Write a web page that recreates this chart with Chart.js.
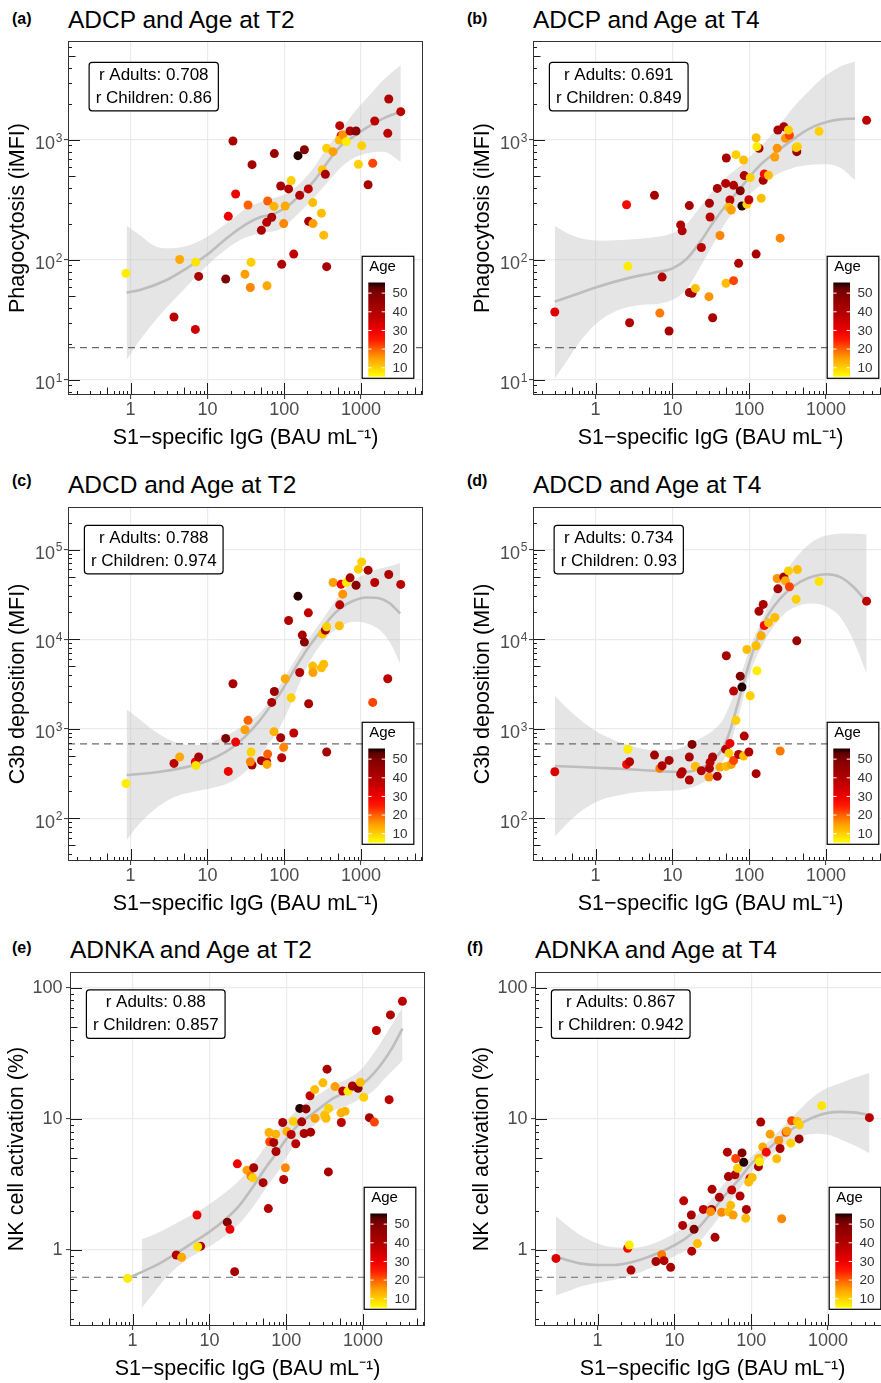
<!DOCTYPE html>
<html>
<head>
<meta charset="utf-8">
<script src="https://cdn.jsdelivr.net/npm/chart.js@4.4.0/dist/chart.umd.min.js"></script>
<style>
  html, body { margin: 0; padding: 0; background: #fff; overflow: hidden; width: 881px; height: 1383px; }
  body { position: relative; font-family: 'Liberation Sans', Arial, sans-serif; }
  canvas { position: absolute; }
  .tag { position: absolute; font-weight: bold; font-size: 16px; line-height: 16px; }
  .ttl { position: absolute; font-size: 24.5px; line-height: 24px; white-space: nowrap; }
</style>
</head>
<body>
<div class="tag" style="left:12px;top:11px">(a)</div>
<div class="ttl" style="left:68px;top:8px">ADCP and Age at T2</div>
<div class="tag" style="left:467px;top:11px">(b)</div>
<div class="ttl" style="left:533px;top:8px">ADCP and Age at T4</div>
<div class="tag" style="left:12px;top:473px">(c)</div>
<div class="ttl" style="left:68px;top:473px">ADCD and Age at T2</div>
<div class="tag" style="left:467px;top:473px">(d)</div>
<div class="ttl" style="left:533px;top:473px">ADCD and Age at T4</div>
<div class="tag" style="left:12px;top:940px">(e)</div>
<div class="ttl" style="left:70px;top:938px">ADNKA and Age at T2</div>
<div class="tag" style="left:467px;top:940px">(f)</div>
<div class="ttl" style="left:535px;top:938px">ADNKA and Age at T4</div>

<canvas id="pa" width="440" height="439" style="left:0;top:21px"></canvas>
<canvas id="pb" width="440" height="439" style="left:465px;top:21px"></canvas>
<canvas id="pc" width="440" height="439" style="left:0;top:487px"></canvas>
<canvas id="pd" width="440" height="439" style="left:465px;top:487px"></canvas>
<canvas id="pe" width="442" height="439" style="left:0;top:952px"></canvas>
<canvas id="pf" width="442" height="439" style="left:465px;top:952px"></canvas>

<script>
// ---- axis limits and ticks ----
const xLimits = [0.153, 6410];
const xTicks = [1, 10, 100, 1000];
const yLimitsP = [7.5, 6683];
const yTicksP = [10, 100, 1000];
const yExpP = [1, 2, 3];
const yLimitsC = [33.4, 298500];
const yTicksC = [100, 1000, 10000, 100000];
const yExpC = [2, 3, 4, 5];
const yLimitsN = [0.2636, 131.5];
const yTicksN = [1, 10, 100];
const yLabelsN = ['1', '10', '100'];
const ageLimits = [5.2, 55.7];
const ageTicks = [10, 20, 30, 40, 50];

// dashed cut-offs
const cutP = 18.6, cutC = 676, cutN = 0.62;

// ---- (a) ADCP T2 ----
const xA = [0.87,4.35,7.03,7.69,3.67,6.96,17.3,18.7,21.5,23.3,33.8,38.1,37,30.8,36.2,59.7,50.4,59.1,68.7,60.9,73.6,74.4,90,114,123,103,98.4,92.7,133,151,183,159,206,208,235,237,305,327,314,343,357,357,432,528,550,522,578,645,720,861,924,1021,1236,1420,1508,2228,2296,3289];
const yA = [77.4,101,96,73,33.5,26.4,69.5,231,981,355,287,623,95.7,76,59,61,177,206,227,310,280,770,414,391,459,282,201,92,112,740,830,346,391,210,301,201,245,161,566,518,88,853,800,1316,1087,1000,1101,969,1189,1189,627,897,424,640,1440,1137,2196,1723];
const ageA = [7,14,8,42,38,35,50,30,42,30,20,43,10,15,17,14,42,38,42,20,13,45,42,40,10,14,17,40,37,55,48,40,37,42,12,15,12,12,11,42,42,10,15,38,30,12,16,7,42,48,10,10,42,22,38,38,40,38];
const fitXA = [0.887,1.32,2.94,5.36,9.77,17.8,32.4,48.4,72.2,108,161,240,357,533,796,1187,1955,3289];
const fitYA = [53.5,56.2,68.1,85.3,110,152,200,227,242,278,348,450,639,880,1066,1267,1516,1723];
const hiXA = [0.887,1.32,1.97,2.94,5.36,9.77,17.8,32.4,59.1,108,161,240,357,533,796,1187,1955,3289];
const hiYA = [193,161,133,125,131,155,202,270,316,359,436,581,853,1173,1668,2223,3162,4217];
const loXA = [0.887,1.32,2.41,4.39,8.0,14.6,26.6,48.4,88.2,131,240,357,533,796,1187,1955,3289];
const loYA = [14.7,21.5,34.8,52.7,78.4,112,147,167,180,222,327,436,581,703,774,800,659];

// ---- (b) ADCP T4 ----
const xB = [0.294,2.53,2.63,2.77,5.84,6.85,7.34,9.05,12.8,13.4,16.6,16.6,18,19.9,23.8,29.9,30.3,30.9,33.4,38.4,41.6,49.3,50.3,49.8,56.1,54.5,58.4,62.6,62.6,67.2,72.7,76.4,80.4,93.3,84.4,86.1,99,103,123,134,126,123,143,152,157,178,215,231,236,253,282,296,334,324,416,408,424,811,3375];
const yB = [36.9,289,88.5,30,346,36.1,72,25.6,196,175,284,53.5,52.8,58,127,49.5,297,228,33,395,160,435,708,64,316,275,261,419,67.3,755,93.8,378,282,291,681,505,318,486,1045,853,880,112,327,462,521,508,722,853,1211,152,1292,1032,1093,1211,800,863,880,1181,1459];
const ageB = [33,28,7,40,43,18,40,42,40,40,42,40,42,12,38,16,42,38,42,42,17,40,42,12,37,12,15,40,22,10,40,50,55,10,12,40,37,10,12,42,7,42,12,42,28,12,15,16,42,17,42,16,22,10,45,12,10,10,38];
const fitXB = [0.294,0.523,1,2.58,5.72,10.1,15.5,23.1,34.4,51.3,76.4,103,139,207,308,460,685,1020,1520,2381];
const fitYB = [45,51.1,59.1,70.3,78.4,85.3,103,142,208,293,395,501,619,764,926,1115,1291,1413,1486,1506];
const hiXB = [0.294,0.429,0.638,1.16,2.11,3.84,6.32,10.4,15.5,23.1,34.4,51.3,76.4,114,170,253,377,561,923,1520,2381];
const hiYB = [193,167,152,145,147,150,156,169,202,278,383,495,607,774,1000,1359,1871,2448,3326,4084,4499];
const loXB = [0.294,0.429,0.705,1.16,2.11,3.84,6.98,10.4,15.5,23.1,34.4,51.3,76.4,114,170,253,377,561,923,1520,2381];
const loYB = [10.3,14.7,23,31.6,38.8,42.2,43.5,47,58,88,138,213,293,378,458,534,588,615,627,591,464];

// ---- (c) ADCD T2 ----
const xC = [0.87,3.67,4.35,6.96,7.1,7.69,17.3,18.7,21.5,23.3,30.8,33.8,38.1,36.2,37,50.4,59.1,60.9,59.7,68.7,74.4,73.6,90,92.7,98.4,103,114,123,133,151,159,172,183,206,208,235,237,305,327,314,343,357,357,432,528,522,578,550,645,720,861,924,1021,1236,1420,1508,2228,2296,3289];
const yC = [245,410,483,425,390,483,780,334,3177,710,975,1240,394,428,550,440,428,521,400,1968,2604,927,794,475,620,3613,16150,2218,896,30200,4246,11100,9270,19670,1900,5000,4246,4787,5260,11380,12600,550,13740,42840,24150,14100,31770,41000,42840,48300,40000,60400,72800,58900,1968,42840,3613,52600,40800];
const ageC = [7,38,14,30,8,42,50,30,42,30,15,20,43,17,10,42,38,20,14,42,45,13,42,40,17,14,40,10,37,55,40,42,48,37,42,12,15,12,12,11,42,42,10,15,38,12,16,30,7,42,48,10,10,42,22,38,38,40,38];
const fitXC = [0.887,1.32,2.41,4.39,8.0,13.2,21.8,32.4,48.4,65.3,88.2,119,161,217,293,395,533,796,1187,1770,2389,3224];
const fitYC = [304,312,331,361,410,487,630,849,1250,1758,2477,3800,5835,8578,12080,17020,21980,26780,29200,28440,25000,19330];
const hiXC = [0.887,1.32,1.97,2.94,4.39,6.55,9.77,14.6,21.8,32.4,48.4,65.3,88.2,119,161,217,293,395,533,796,1187,1770,2389,3224];
const hiYC = [1643,1271,966,780,686,657,686,773,926,1146,1507,2089,3070,4710,7230,10620,15210,21980,31770,44800,53950,61380,65200,71000];
const loXC = [0.887,1.32,2.18,3.6,6.55,11.9,21.8,39.6,59.1,88.2,119,161,217,293,395,533,796,1187,1770,2389,3224];
const loYC = [57.3,87.9,131,171,198,220,263,403,630,1052,1790,3343,5730,8490,11380,13740,15610,14960,12600,9100,5360];

// ---- (d) ADCD T4 ----
const xD = [0.294,2.53,2.77,2.63,5.84,6.85,7.34,9.05,12.8,13.4,16.6,16.6,18,19.9,23.8,29.9,30.3,30.9,33.4,38.4,41.6,49.3,50.3,49.8,56.1,54.5,58.4,62.6,62.6,67.2,72.7,76.4,80.4,84.4,86.1,99,103,93.3,123,126,123,143,134,152,157,178,215,231,236,253,282,296,334,324,408,424,416,811,3375];
const yD = [331,400,428,589,508,361,386,443,312,331,483,268,668,380,340,289,361,422,483,294,373,589,6520,380,686,531,400,2630,443,1240,517,3863,2917,496,828,550,2335,7670,8430,4436,315,10900,20500,24400,14200,15200,17450,47500,36400,564,49500,44800,38400,57800,27900,59800,9570,44000,26550];
const ageD = [33,28,38,7,43,18,40,42,40,40,42,40,50,12,40,16,42,38,42,42,14,40,42,12,30,10,15,38,22,10,40,50,55,12,40,40,10,12,12,7,42,14,42,42,28,12,12,16,42,18,42,14,22,10,10,12,45,8,38];
const fitXD = [0.294,0.523,1,2.11,3.84,6.32,10.1,15.5,23.1,34.4,46.4,56.6,69.2,84.4,103,126,153,207,308,460,685,1020,1520,2265,3375];
const fitYD = [384,377,367,358,346,337,331,331,361,448,630,966,1758,3257,5835,9750,14960,22950,33740,43600,50450,53100,49550,38380,26060];
const hiXD = [0.294,0.429,0.638,0.952,1.73,3.15,5.72,10.1,15.5,23.1,34.4,46.4,56.6,69.2,84.4,103,139,187,253,377,561,836,1245,1855,3375];
const hiYD = [2335,1686,1250,966,748,630,578,578,657,780,966,1303,1919,2939,4910,8220,14960,27200,45500,74800,108900,136000,148300,150700,148300];
const loXD = [0.294,0.429,0.638,1.16,2.11,3.84,6.98,12.7,18.9,28.2,38,51.3,62.6,76.4,93.3,114,153,207,308,460,685,1020,1520,2265,3375];
const loYD = [62.5,87.9,119,160,182,198,202,207,225,268,346,531,887,1614,3206,5360,8950,13740,20200,23930,25000,22950,17740,9750,4140];

// ---- (e) ADNKA T2 ----
const xE = [0.86,3.7,4.35,6.89,7.69,7.03,17.1,18.5,21.3,23.1,30.8,34.8,37.7,36.6,49.9,58.5,59.7,60.9,68.7,72.9,73.6,90,92.7,97.5,102,116,124,133,150,159,171,181,204,208,235,237,301,317,330,340,354,357,432,517,522,544,584,638,727,861,924,1021,1210,1406,1493,2185,2274,3258];
const yE = [0.608,0.916,0.88,1.85,1.07,1.06,1.63,1.44,0.684,4.54,4.06,3.66,4.24,3.55,3.26,2.07,7.87,6.68,6.6,7.64,5.64,9.37,3.45,4.24,8.01,7.6,9.55,6.46,12.0,9.48,7.73,11.9,15.0,7.91,16.7,10.1,18.8,10.7,10.1,23.9,3.94,12.0,17.6,11.1,9.37,16.3,11.4,16.2,17.8,17.1,19.0,14.6,10.2,9.44,47.1,14.0,61.9,78.7];
const ageE = [7,40,14,30,38,8,50,30,42,30,15,18,42,10,42,40,13,22,42,13,42,42,40,17,13,38,10,38,55,42,42,48,37,42,12,15,12,12,12,42,42,10,15,13,38,38,13,7,42,48,12,10,42,22,38,38,40,38];
const fitXE = [0.9,1.01,1.51,2.25,3.71,6.11,10.1,16.6,24.8,37,55.1,74.4,100,135,202,302,407,550,742,1000,1352,1824,2462,3258];
const fitYE = [0.615,0.634,0.705,0.791,0.944,1.14,1.38,1.74,2.2,3.04,4.31,5.45,7.0,8.69,10.5,12.6,14.3,15.6,16.7,18.6,21.9,27.2,35.7,48.7];
const bandXE = [1.31,1.84,2.75,5.0,9.12,16.6,24.8,37,55.1,74.4,100,135,202,302,407,607,906,1352,2015,2720,3258];
const hiYE = [1.21,1.3,1.46,1.76,2.16,2.78,3.41,4.57,6.3,7.87,9.66,11.5,13.9,16.1,18.0,19.9,23.2,31.0,44.7,59.2,70.5];
const loYE = [0.36,0.462,0.619,0.84,1.03,1.3,1.6,2.14,3.0,3.79,5.08,6.61,8.34,10.2,11.5,12.6,14.1,16.3,20.9,24.9,28.0];

// ---- (f) ADNKA T4 ----
const xF = [0.287,2.46,2.59,2.72,5.75,6.82,7.32,8.93,12.8,13.2,16.6,16.8,18,19.9,23.8,30.5,29.6,30.9,33.8,38.5,41.2,48.9,50.4,50.4,54,55.7,58,61.5,62.8,66.6,71.5,75.9,79.8,84.7,86.4,96.4,92.7,103,124,125,128,133,141,157,176,215,228,237,249,284,292,327,336,420,399,424,828,3459];
const yF = [0.863,1.03,1.09,0.703,0.818,0.92,0.83,0.738,1.54,2.37,1.85,0.98,1.44,1.12,2.04,2.04,1.96,2.9,1.25,2.52,1.94,5.57,3.63,1.96,2.19,2.87,1.85,3.74,4.98,4.2,2.58,5.5,4.67,1.75,2.04,3.52,3.29,3.57,4.32,4.98,4.7,9.44,6.11,5.57,7.64,4.96,6.84,5.94,1.73,7.9,8.05,6.52,9.66,7.03,9.55,9.0,12.6,10.2];
const ageF = [33,28,7,40,43,18,40,42,40,38,42,40,50,12,38,42,16,42,42,42,17,40,42,12,12,37,15,40,22,10,40,50,55,12,42,30,12,12,42,12,7,42,14,28,15,12,16,42,17,22,15,10,22,45,12,10,8,38];
const fitXF = [0.287,0.395,0.589,1,1.6,2.91,5.31,10.1,14.4,21.5,32.1,47.9,71.5,100,144,215,320,478,712,1000,1435,2138,3459];
const fitYF = [0.889,0.839,0.791,0.768,0.768,0.814,0.916,1.09,1.24,1.52,2.02,2.71,3.53,4.53,5.47,6.72,8.15,9.44,10.5,11.1,11.3,11.2,10.7];
const bandXF = [0.287,0.395,0.589,1,1.6,2.91,5.31,10.1,14.4,21.5,32.1,47.9,71.5,100,144,215,320,478,712,1000,1435,2366,3459];
const hiYF = [1.82,1.55,1.3,1.12,1.05,1.04,1.12,1.34,1.55,1.93,2.55,3.37,4.2,5.15,6.15,7.78,9.93,12.6,15.4,17.3,18.7,20.8,22.3];
const loYF = [0.453,0.481,0.525,0.563,0.59,0.644,0.746,0.9,1.0,1.18,1.55,2.14,2.94,3.92,4.72,5.73,6.76,7.42,7.68,7.55,7.0,6.15,5.47];

// colour scale for age
const ageStops = [[5.2,'#ffff00'],[10,'#ffd000'],[15,'#ffa000'],[20,'#ff6000'],[25,'#ff1800'],[30,'#ee0000'],[38,'#bb0000'],[45,'#990000'],[50,'#800000'],[53,'#600000'],[55.7,'#100000']];

const FONT = "'Liberation Sans', Arial, sans-serif";

function hex(c) { return [1, 3, 5].map(i => parseInt(c.substr(i, 2), 16)); }
function ageColor(a) {
  if (a <= ageStops[0][0]) return ageStops[0][1];
  for (let i = 1; i < ageStops.length; i++) {
    if (a <= ageStops[i][0]) {
      const [a0, c0] = ageStops[i - 1], [a1, c1] = ageStops[i];
      const t = (a - a0) / (a1 - a0);
      const p = hex(c0), q = hex(c1);
      return 'rgb(' + p.map((v, k) => Math.round(v + (q[k] - v) * t)).join(',') + ')';
    }
  }
  return ageStops[ageStops.length - 1][1];
}

function pts(xs, ys) { return xs.map((x, i) => ({x: x, y: ys[i]})); }

function logSteps(min, max) {
  const out = [];
  for (let k = Math.floor(Math.log10(min)); k <= Math.ceil(Math.log10(max)); k++) {
    for (let m = 1; m <= 9; m++) {
      const v = m * Math.pow(10, k);
      if (v >= min && v <= max) out.push([v, m]);
    }
  }
  return out;
}

// draws log ticks, panel border, power-of-ten labels, r box and colour bar
const panelDeco = {
  id: 'panelDeco',
  afterDatasetsDraw(chart, args, o) {
    const {ctx, chartArea: ca} = chart;
    const x = chart.scales.x, y = chart.scales.y;
    ctx.save();
    ctx.strokeStyle = '#1a1a1a';
    ctx.lineWidth = 1;
    logSteps(x.min, x.max).forEach(([v, m]) => {
      const px = Math.round(x.getPixelForValue(v)) + 0.5;
      const len = m === 1 ? 12 : (m === 5 ? 7.5 : 4);
      ctx.beginPath(); ctx.moveTo(px, ca.bottom); ctx.lineTo(px, ca.bottom - len); ctx.stroke();
    });
    logSteps(y.min, y.max).forEach(([v, m]) => {
      const py = Math.round(y.getPixelForValue(v)) + 0.5;
      const len = m === 1 ? 12 : (m === 5 ? 7.5 : 4);
      ctx.beginPath(); ctx.moveTo(ca.left, py); ctx.lineTo(ca.left + len, py); ctx.stroke();
    });
    ctx.strokeStyle = '#333';
    ctx.strokeRect(ca.left + 0.5, ca.top + 0.5, ca.width - 1, ca.height - 1);

    // 10^k labels on the y axis
    if (o.exps) {
      ctx.fillStyle = '#4d4d4d';
      ctx.textAlign = 'left'; ctx.textBaseline = 'alphabetic';
      o.ticks.forEach((v, i) => {
        const py = y.getPixelForValue(v);
        const e = String(o.exps[i]);
        ctx.font = '12px ' + FONT;
        const we = ctx.measureText(e).width;
        ctx.font = '18px ' + FONT;
        const wb = ctx.measureText('10').width;
        const right = ca.left - 5.5;
        ctx.fillText('10', right - we - 0.8 - wb, py + 9.3);
        ctx.font = '12px ' + FONT;
        ctx.fillText(e, right - we, py + 1.8);
      });
    }

    // r box
    ctx.font = '17px ' + FONT;
    const w = Math.max(ctx.measureText(o.r1).width, ctx.measureText(o.r2).width) + 13;
    const h = 48.5;
    const cx = x.getPixelForValue(2), cy = y.getPixelForValue(o.boxY);
    ctx.beginPath();
    ctx.roundRect(cx - w / 2, cy - h / 2, w, h, 3);
    ctx.fillStyle = '#fff'; ctx.fill();
    ctx.strokeStyle = '#000'; ctx.lineWidth = 1.2; ctx.stroke();
    ctx.fillStyle = '#000';
    ctx.textAlign = 'center'; ctx.textBaseline = 'middle';
    ctx.fillText(o.r1, cx, cy - 11.5);
    ctx.fillText(o.r2, cx, cy + 11.5);

    // colour bar legend
    const L = ca.right - 9.2 - 51.6, T = ca.bottom - 16.7 - 122;
    ctx.fillStyle = '#fff';
    ctx.fillRect(L, T, 51.6, 122);
    ctx.strokeStyle = '#000'; ctx.lineWidth = 1.2;
    ctx.strokeRect(L, T, 51.6, 122);
    const bx = L + 6.1, bw = 16.7, by = T + 26.2, bh = 94.2;
    const span = ageLimits[1] - ageLimits[0];
    const g = ctx.createLinearGradient(0, by + bh, 0, by);
    ageStops.forEach(([a, c]) => g.addColorStop(Math.min(1, Math.max(0, (a - ageLimits[0]) / span)), c));
    ctx.fillStyle = g;
    ctx.fillRect(bx, by, bw, bh);
    ctx.strokeStyle = '#fff'; ctx.lineWidth = 1;
    ctx.font = '13.5px ' + FONT;
    ctx.textAlign = 'left'; ctx.textBaseline = 'middle';
    ageTicks.forEach(a => {
      const py = by + bh - (a - ageLimits[0]) / span * bh;
      ctx.beginPath();
      ctx.moveTo(bx, py); ctx.lineTo(bx + 3.3, py);
      ctx.moveTo(bx + bw - 3.3, py); ctx.lineTo(bx + bw, py);
      ctx.stroke();
      ctx.fillStyle = '#333';
      ctx.fillText(String(a), bx + bw + 7.5, py + 0.5);
    });
    ctx.fillStyle = '#000';
    ctx.font = '15px ' + FONT;
    ctx.fillText('Age', L + 7, T + 10.6);
    ctx.restore();
  }
};

function makePanel(id, p) {
  const tickFont = {family: FONT, size: 18};
  const titleFont = {family: FONT, size: 21.5};
  new Chart(document.getElementById(id), {
    type: 'scatter',
    data: {
      datasets: [
        {data: pts(p.x, p.y), backgroundColor: p.age.map(ageColor), pointRadius: 4.5, pointHoverRadius: 4.5, borderWidth: 0, order: 0},
        {type: 'line', data: pts(p.fitX, p.fitY), borderColor: '#bdbdbd', borderWidth: 2.6, pointRadius: 0,
          cubicInterpolationMode: 'monotone', fill: false, order: 1},
        {type: 'line', data: [{x: xLimits[0], y: p.cut}, {x: xLimits[1], y: p.cut}], borderColor: '#6b6b6b', borderWidth: 1.2,
          borderDash: [7, 5], pointRadius: 0, fill: false, order: 2},
        {type: 'line', data: pts(p.hiX, p.hiY), borderColor: 'rgba(0,0,0,0)', borderWidth: 0, pointRadius: 0,
          cubicInterpolationMode: 'monotone', fill: '+1', backgroundColor: 'rgba(190,190,190,0.4)', order: 3},
        {type: 'line', data: pts(p.loX, p.loY), borderColor: 'rgba(0,0,0,0)', borderWidth: 0, pointRadius: 0,
          cubicInterpolationMode: 'monotone', fill: false, order: 4}
      ]
    },
    options: {
      responsive: false,
      animation: false,
      devicePixelRatio: 1,
      events: [],
      layout: {padding: {top: 20, right: 17, left: 0, bottom: 0}},
      plugins: {
        legend: {display: false},
        tooltip: {enabled: false},
        panelDeco: {r1: p.r1, r2: p.r2, boxY: p.boxY, ticks: p.yTicks, exps: p.yExp}
      },
      scales: {
        x: {
          type: 'logarithmic', min: xLimits[0], max: xLimits[1],
          afterBuildTicks: s => { s.ticks = xTicks.map(v => ({value: v})); },
          afterFit: s => { s.height = 65; },
          ticks: {callback: v => String(v), color: '#4d4d4d', font: tickFont, padding: 0, autoSkip: false, maxRotation: 0},
          grid: {color: '#ebebeb', lineWidth: 1.2, tickColor: '#333', tickLength: 4, tickWidth: 1},
          border: {display: false},
          title: {display: true, text: 'S1−specific IgG (BAU mL⁻¹)', color: '#000', font: titleFont, padding: {top: 0, bottom: 9.2}}
        },
        y: {
          type: 'logarithmic', min: p.yLim[0], max: p.yLim[1],
          afterBuildTicks: s => { s.ticks = p.yTicks.map(v => ({value: v})); },
          afterFit: s => { s.width = p.yw; },
          ticks: {callback: v => (p.yLabels ? p.yLabels[p.yTicks.indexOf(v)] : ''), color: '#4d4d4d', font: tickFont, padding: 3.5, autoSkip: false},
          grid: {color: '#ebebeb', lineWidth: 1.2, tickColor: '#333', tickLength: 4, tickWidth: 1},
          border: {display: false},
          title: {display: true, text: p.yTitle, color: '#000', font: titleFont, padding: {top: p.yTitlePad, bottom: 0}}
        }
      }
    },
    plugins: [panelDeco]
  });
}

makePanel('pa', {x: xA, y: yA, age: ageA, fitX: fitXA, fitY: fitYA, hiX: hiXA, hiY: hiYA, loX: loXA, loY: loYA,
  cut: cutP, yLim: yLimitsP, yTicks: yTicksP, yExp: yExpP, yw: 68, yTitlePad: 5.2,
  yTitle: 'Phagocytosis (iMFI)', r1: 'r Adults: 0.708', r2: 'r Children: 0.86', boxY: 2790});
makePanel('pb', {x: xB, y: yB, age: ageB, fitX: fitXB, fitY: fitYB, hiX: hiXB, hiY: hiYB, loX: loXB, loY: loYB,
  cut: cutP, yLim: yLimitsP, yTicks: yTicksP, yExp: yExpP, yw: 68, yTitlePad: 5.2,
  yTitle: 'Phagocytosis (iMFI)', r1: 'r Adults: 0.691', r2: 'r Children: 0.849', boxY: 2790});
makePanel('pc', {x: xC, y: yC, age: ageC, fitX: fitXC, fitY: fitYC, hiX: hiXC, hiY: hiYC, loX: loXC, loY: loYC,
  cut: cutC, yLim: yLimitsC, yTicks: yTicksC, yExp: yExpC, yw: 68, yTitlePad: 5.2,
  yTitle: 'C3b deposition (MFI)', r1: 'r Adults: 0.788', r2: 'r Children: 0.974', boxY: 100000});
makePanel('pd', {x: xD, y: yD, age: ageD, fitX: fitXD, fitY: fitYD, hiX: hiXD, hiY: hiYD, loX: loXD, loY: loYD,
  cut: cutC, yLim: yLimitsC, yTicks: yTicksC, yExp: yExpC, yw: 68, yTitlePad: 5.2,
  yTitle: 'C3b deposition (MFI)', r1: 'r Adults: 0.734', r2: 'r Children: 0.93', boxY: 100000});
makePanel('pe', {x: xE, y: yE, age: ageE, fitX: fitXE, fitY: fitYE, hiX: bandXE, hiY: hiYE, loX: bandXE, loY: loYE,
  cut: cutN, yLim: yLimitsN, yTicks: yTicksN, yLabels: yLabelsN, yw: 70, yTitlePad: 3.9,
  yTitle: 'NK cell activation (%)', r1: 'r Adults: 0.88', r2: 'r Children: 0.857', boxY: 62.7});
makePanel('pf', {x: xF, y: yF, age: ageF, fitX: fitXF, fitY: fitYF, hiX: bandXF, hiY: hiYF, loX: bandXF, loY: loYF,
  cut: cutN, yLim: yLimitsN, yTicks: yTicksN, yLabels: yLabelsN, yw: 70, yTitlePad: 3.9,
  yTitle: 'NK cell activation (%)', r1: 'r Adults: 0.867', r2: 'r Children: 0.942', boxY: 62.7});
</script>
</body>
</html>
